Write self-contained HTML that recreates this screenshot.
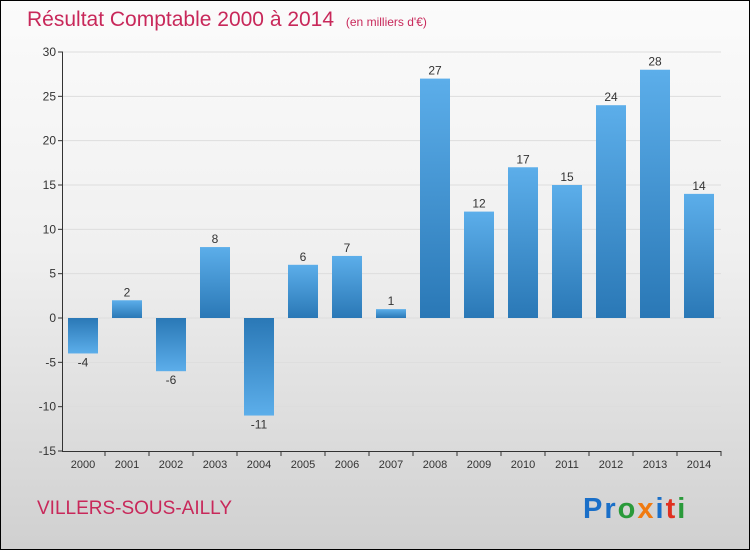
<!DOCTYPE html>
<html><head><meta charset="utf-8"><style>
body{margin:0}
#wrap{position:relative;width:748px;height:548px;border:1px solid #000;background:linear-gradient(#fbfbfb 0%,#f0f0f0 45%,#d0d0d0 100%);font-family:"Liberation Sans",sans-serif;overflow:hidden}
</style></head><body>
<div id="wrap">
<svg id="chart" width="748" height="548">
<defs>
<linearGradient id="gp" x1="0" y1="0" x2="0" y2="1"><stop offset="0" stop-color="#5caeea"/><stop offset="1" stop-color="#2a78b6"/></linearGradient>
<linearGradient id="gn" x1="0" y1="0" x2="0" y2="1"><stop offset="0" stop-color="#2a78b6"/><stop offset="1" stop-color="#5caeea"/></linearGradient>
</defs>
<text x="26" y="25" font-size="21" fill="#c8285a">Résultat Comptable 2000 à 2014 <tspan font-size="12" dx="6">(en milliers d'€)</tspan></text>
<text x="36" y="513" font-size="19" fill="#c8285a">VILLERS-SOUS-AILLY</text>
<text x="582" y="517" font-size="29" font-weight="bold" letter-spacing="2"><tspan fill="#1a6fc8">Pr</tspan><tspan fill="#2a9a3a">o</tspan><tspan fill="#f07a10">x</tspan><tspan fill="#1a6fc8">i</tspan><tspan fill="#e03020">t</tspan><tspan fill="#2a9a3a">i</tspan></text>
<g id="plot"></g>
</svg>
</div>
<script>
const years=["2000","2001","2002","2003","2004","2005","2006","2007","2008","2009","2010","2011","2012","2013","2014"];
const values=[-4,2,-6,8,-11,6,7,1,27,12,17,15,24,28,14];
const yTicks=[30,25,20,15,10,5,0,-5,-10,-15];
const yMin=-15,yMax=30,plotTop=51,plotBottom=450,plotLeft=61,x0=82,step=44,bw=30;
const ns="http://www.w3.org/2000/svg";
const g=document.getElementById('plot');
function yS(v){return plotTop+(yMax-v)*(plotBottom-plotTop)/(yMax-yMin);}
function xS(i){return x0+i*step;}
function mk(t,a){const e=document.createElementNS(ns,t);for(const k in a)e.setAttribute(k,a[k]);g.appendChild(e);return e;}
yTicks.forEach(t=>{
 const l=mk('line',{x1:62,x2:720,y1:yS(t),y2:yS(t),stroke:'#dddddd'});
 
 
 const k=mk('line',{x1:57,x2:62,y1:yS(t),y2:yS(t),stroke:'#333'});
 
 
 const tx=mk('text',{x:55,y:yS(t)+4,'text-anchor':'end','font-size':12,fill:'#333'});
 tx.textContent=t;
 
 
});
const ax=mk('line',{x1:plotLeft+0.5,x2:plotLeft+0.5,y1:plotTop,y2:plotBottom,stroke:'#333'});


const xa=mk('line',{x1:plotLeft,x2:720,y1:plotBottom+0.5,y2:plotBottom+0.5,stroke:'#333'});


years.forEach((yr,i)=>{
 const v=values[i],y1=yS(Math.max(v,0)),y2=yS(Math.min(v,0));
 const r=mk('rect',{x:xS(i)-bw/2,y:y1,width:bw,height:y2-y1,fill:v>=0?'url(#gp)':'url(#gn)'});
 
 
 const lb=mk('text',{x:xS(i),y:v>=0?y1-4:y2+13,'text-anchor':'middle','font-size':12,fill:'#333'});
 lb.textContent=v;
 
 
 const tk=mk('line',{x1:xS(i)+step/2,x2:xS(i)+step/2,y1:plotBottom,y2:plotBottom+5,stroke:'#333'});
 
 
 const xl=mk('text',{x:xS(i),y:plotBottom+17,'text-anchor':'middle','font-size':11,fill:'#333'});
 xl.textContent=yr;
 
 
});
</script>
</body></html>
